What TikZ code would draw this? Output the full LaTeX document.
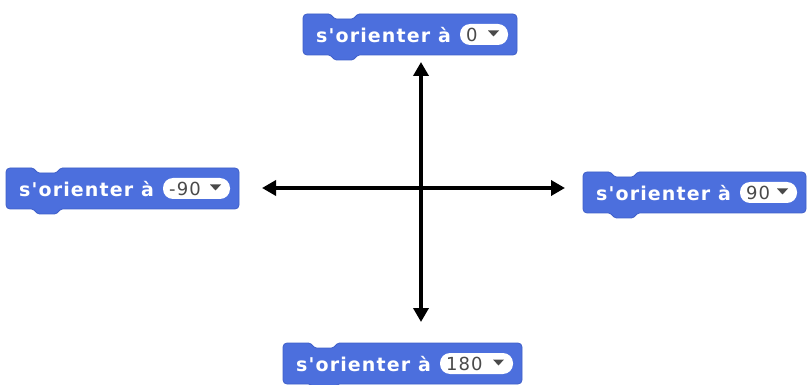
\documentclass[tikz,border=0pt]{standalone}
\usepackage{fontspec}
\setmainfont{DejaVu Sans}
\newfontfamily\blockfont[LetterSpace=6]{DejaVu Sans Bold}
\newfontfamily\valfont[LetterSpace=6]{DejaVu Sans}
\usetikzlibrary{arrows.meta}
\definecolor{motion}{HTML}{4C6FDD}
\definecolor{motionedge}{HTML}{3F5FC8}
\definecolor{valgray}{HTML}{4A4A4A}
\tikzset{
  lbl/.style={text=white,font=\blockfont\fontsize{19}{19}\selectfont,inner sep=0pt,anchor=west},
  val/.style={text=valgray,font=\valfont\fontsize{18}{18}\selectfont,inner sep=0pt,anchor=west},
  arr/.style={line width=3.5pt,{Triangle[length=14pt,width=15pt]}-{Triangle[length=14pt,width=15pt]}},
}
% #1 name, #2 L, #3 T, #4 pill width, #5 value
\newcommand\sblock[5]{%
  \pgfmathsetmacro\bL{#2}\pgfmathsetmacro\bT{#3}%
  \pgfmathsetmacro\bB{#3+41}%
  \pgfmathsetmacro\pL{#2+157}\pgfmathsetmacro\pR{#2+157+#4}%
  \pgfmathsetmacro\bR{\pR+9}%
  \pgfmathsetmacro\bC{#3+20.5}%
  \filldraw[fill=motion,draw=motionedge,line width=0.8pt]
    (\bL,\bC) [rounded corners=4pt] -- (\bL,\bT) [rounded corners=1.5pt] -- ({\bL+27},\bT) -- ({\bL+32},{\bT+5}) -- ({\bL+50},{\bT+5}) -- ({\bL+55},\bT) [rounded corners=4pt]
    -- (\bR,\bT) -- (\bR,\bB) [rounded corners=1.5pt] -- ({\bL+55},\bB) -- ({\bL+50},{\bB+5}) -- ({\bL+32},{\bB+5}) -- ({\bL+27},\bB) [rounded corners=4pt] -- (\bL,\bB) [sharp corners] -- cycle;
  \node[lbl] (#1) at ({\bL+13},{\bC+1}) {s'orienter à};
  \fill[white,rounded corners=10pt] (\pL,{\bC-10.5}) rectangle (\pR,{\bC+10.5});
  \node[val] (#1v) at ({\pL+6},{\bC+0.5}) {#5};
  \fill[valgray] ({\pR-20},{\bC-4}) -- ({\pR-9},{\bC-4}) -- ({\pR-14.5},{\bC+2}) -- cycle;
}
\begin{document}
\begin{tikzpicture}[x=1pt,y=-1pt]
\useasboundingbox (0,0) rectangle (807,385);
\sblock{up}{303}{14}{48}{0}
\sblock{left}{6}{168}{67}{-90}
\sblock{right}{583}{172}{57}{90}
\sblock{down}{283}{343}{73}{180}
\coordinate (vt) at (421,62);
\coordinate (vb) at (421,322);
\coordinate (hl) at (262,188);
\coordinate (hr) at (565,188);
\draw[arr] (vt) -- (vb);
\draw[arr] (hl) -- (hr);
\end{tikzpicture}
\end{document}
